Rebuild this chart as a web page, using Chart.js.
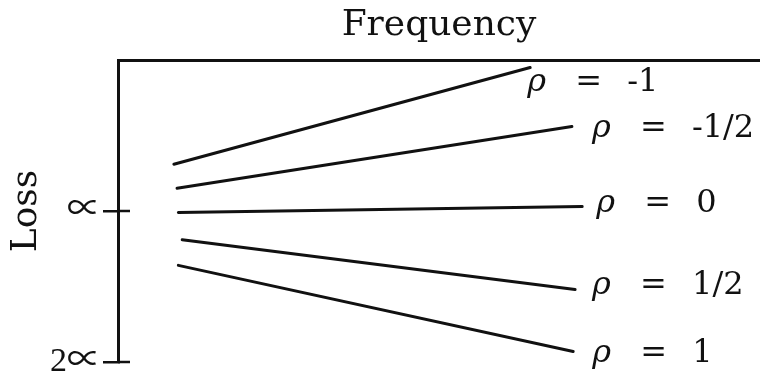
<!DOCTYPE html>
<html>
<head>
<meta charset="utf-8">
<script src="https://cdn.jsdelivr.net/npm/chart.js@4.4.0/dist/chart.umd.min.js"></script>
<style>
  html, body { margin: 0; padding: 0; background: #fff; }
  #wrap { width: 760px; height: 374px; }
</style>
</head>
<body>
<div id="wrap"><canvas id="lossChart"></canvas></div>
<script>
// one straight line per rho (frequency 0..10, loss in units of alpha, 0 at top)
const rhoValues = ['-1', '-1/2', '0', '1/2', '1'];
const startFreq = [0.87, 0.92, 0.94, 1.00, 0.94];
const endFreq = [6.42, 7.07, 7.23, 7.12, 7.09];
const startLoss = [0.69, 0.85, 1.01, 1.19, 1.36];
const endLoss = [0.05, 0.44, 0.97, 1.52, 1.93];

const lossTickValues = [1, 2];
const lossTickLabels = ['∝', '2∝'];

// pixel offsets of the rho labels from the line ends
const labelOffsets = [[-3, 15], [20, 2], [14, -3], [17, -4], [19, 2]];

const ink = '#111';
const serif = "'DejaVu Serif', serif";

const datasets = rhoValues.map((rho, i) => ({
  label: 'ρ = ' + rho,
  data: [
    { x: startFreq[i], y: startLoss[i] },
    { x: endFreq[i], y: endLoss[i] },
  ],
  showLine: true,
  borderColor: ink,
  borderWidth: 3,
  borderCapStyle: 'round',
  pointRadius: 0,
  clip: false,
}));

// rho labels at the right end of each line: italic rho, then "=", then the value
const rhoLabels = {
  id: 'rhoLabels',
  afterDatasetsDraw(chart) {
    const ctx = chart.ctx;
    ctx.save();
    ctx.fillStyle = ink;
    ctx.textAlign = 'left';
    ctx.textBaseline = 'middle';
    chart.data.datasets.forEach((ds, i) => {
      const pt = chart.getDatasetMeta(i).data[1];
      const x = pt.x + labelOffsets[i][0];
      const y = pt.y + labelOffsets[i][1];
      ctx.font = 'italic 32px ' + serif;
      ctx.fillText('ρ', x, y);
      ctx.font = '32px ' + serif;
      ctx.fillText('=', x + 48, y);
      ctx.fillText(rhoValues[i], x + 100, y);
    });
    ctx.restore();
  },
};

// the loss ticks cross the axis, so draw the inner half too
const crossTicks = {
  id: 'crossTicks',
  afterDraw(chart) {
    const y = chart.scales.y;
    const ctx = chart.ctx;
    ctx.save();
    ctx.strokeStyle = ink;
    ctx.lineWidth = 2.5;
    y.ticks.forEach((t) => {
      const py = y.getPixelForValue(t.value);
      ctx.beginPath();
      ctx.moveTo(y.right, py);
      ctx.lineTo(y.right + 12, py);
      ctx.stroke();
    });
    ctx.restore();
  },
};

new Chart(document.getElementById('lossChart'), {
  type: 'scatter',
  data: { datasets },
  plugins: [rhoLabels, crossTicks],
  options: {
    responsive: true,
    maintainAspectRatio: false,
    animation: false,
    layout: { padding: { top: 0, right: 0, bottom: 12, left: 0 } },
    plugins: {
      legend: { display: false },
      tooltip: { enabled: false },
    },
    scales: {
      x: {
        type: 'linear',
        position: 'top',
        min: 0,
        max: 10,
        ticks: { display: false },
        grid: { drawOnChartArea: false, drawTicks: false },
        border: { display: true, color: ink, width: 3 },
        title: {
          display: true,
          text: 'Frequency',
          color: ink,
          font: { family: serif, size: 36 },
          padding: { top: 4, bottom: 0 },
        },
        afterFit: (scale) => { scale.height = 60; },
      },
      y: {
        type: 'linear',
        reverse: true,
        min: 0,
        max: 2,
        afterBuildTicks: (scale) => {
          scale.ticks = lossTickValues.map((v) => ({ value: v }));
        },
        ticks: {
          color: ink,
          font: { family: "'Liberation Serif', 'Noto Sans CJK JP', serif", size: 34, lineHeight: 0.5 },
          padding: 2,
          callback: (v) => lossTickLabels[lossTickValues.indexOf(v)],
        },
        grid: { drawOnChartArea: false, tickLength: 15, color: ink, lineWidth: 2.5 },
        border: { display: true, color: ink, width: 3 },
        title: {
          display: true,
          text: 'Loss',
          color: ink,
          font: { family: serif, size: 36 },
          padding: { top: 5, bottom: 0 },
        },
        afterFit: (scale) => { scale.width = 118; },
      },
    },
  },
});
</script>
</body>
</html>
